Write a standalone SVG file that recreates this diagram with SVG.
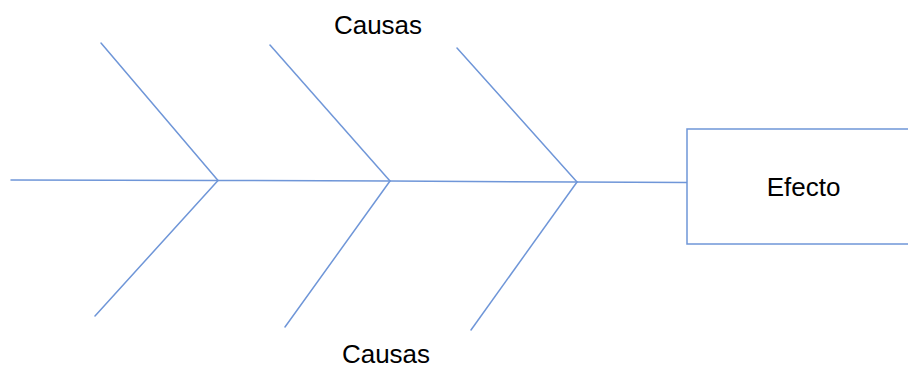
<svg xmlns="http://www.w3.org/2000/svg" width="908" height="369" viewBox="0 0 908 369">
<style>
.ln{stroke:#6f96d8;stroke-width:1.5;fill:none;stroke-linecap:round}
.box{stroke:#6f96d8;stroke-width:1.5;fill:#ffffff}
.t{font-family:"Liberation Sans",Arial,sans-serif;font-size:26px;fill:#000000;text-anchor:middle}
</style>
<rect width="908" height="369" fill="#ffffff"/>
<g id="connectors">
<polyline class="ln" points="11,180 218,180.5 390,181 577,182 687,182.5"/>
<line class="ln" x1="101" y1="43" x2="218" y2="180.5"/>
<line class="ln" x1="95" y1="316" x2="218" y2="180.5"/>
<line class="ln" x1="270" y1="45" x2="390" y2="181"/>
<line class="ln" x1="285" y1="327" x2="390" y2="181"/>
<line class="ln" x1="457" y1="48" x2="577" y2="182"/>
<line class="ln" x1="471" y1="330" x2="577" y2="182"/>
</g>
<g id="efecto">
<rect class="box" x="687" y="129" width="230" height="115"/>
<text class="t" x="803.5" y="196">Efecto</text>
</g>
<g id="causas-top">
<text class="t" x="378" y="34">Causas</text>
</g>
<g id="causas-bottom">
<text class="t" x="386" y="362.5">Causas</text>
</g>
</svg>
